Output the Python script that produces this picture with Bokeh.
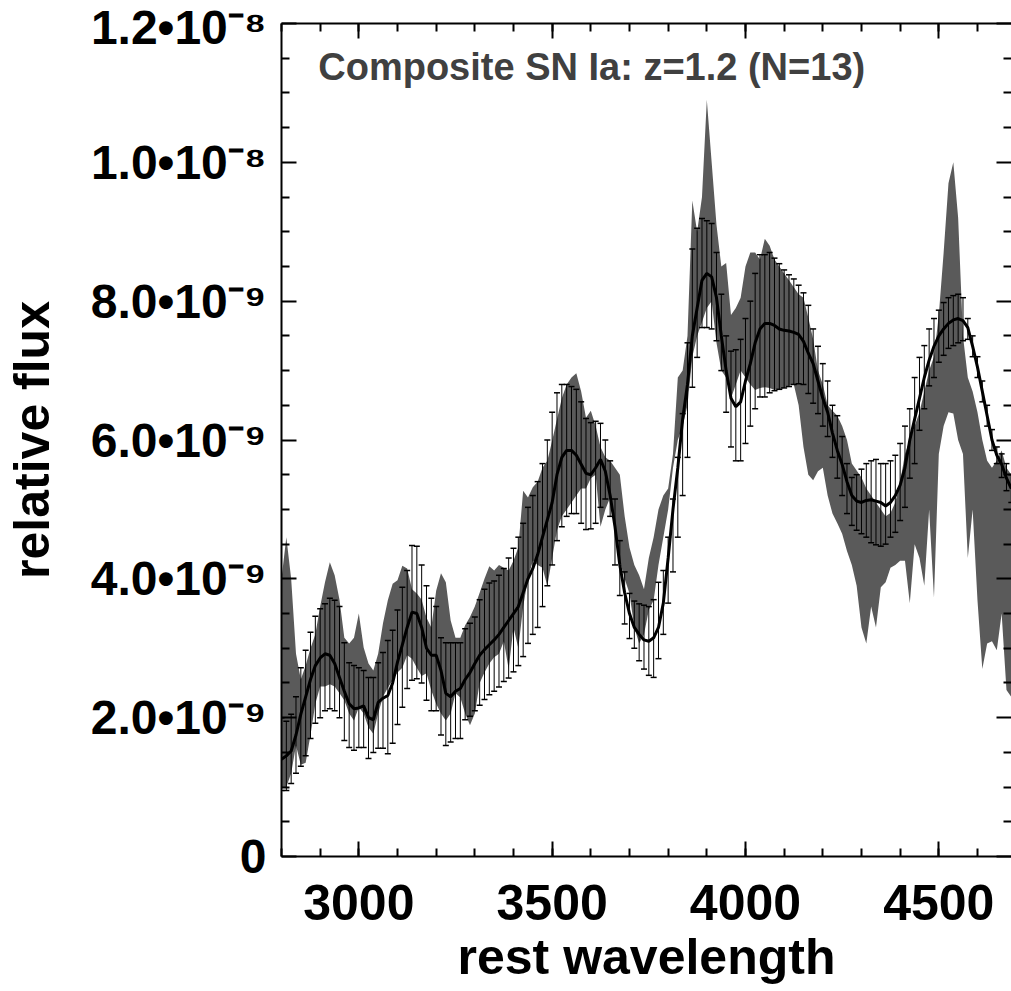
import numpy as np
from bokeh.plotting import figure
from bokeh.models import Range1d, LinearAxis, FixedTicker, SingleIntervalTicker, Label, ColumnDataSource
from bokeh.embed import file_html
from bokeh.resources import INLINE

# rest wavelength sampling of the composite (Angstrom)
wavelength = np.arange(2800, 4700, 12.5)

# composite mean flux, units of 1e-9
mean_flux = [1.40,1.45,1.52,1.75,2.05,2.30,2.55,2.75,2.86,2.92,
2.90,2.78,2.58,2.38,2.20,2.13,2.14,2.17,2.00,1.97,
2.22,2.28,2.32,2.50,2.80,3.05,3.30,3.52,3.50,3.30,
3.00,2.90,2.90,2.68,2.35,2.30,2.38,2.42,2.55,2.65,
2.78,2.90,2.98,3.05,3.12,3.20,3.30,3.40,3.50,3.60,
3.80,4.00,4.15,4.35,4.60,4.85,5.10,5.50,5.75,5.85,
5.85,5.78,5.65,5.52,5.50,5.60,5.72,5.55,5.20,4.75,
4.20,3.80,3.50,3.30,3.20,3.12,3.10,3.15,3.30,3.65,
4.30,5.00,5.60,6.30,6.80,7.50,7.90,8.30,8.40,8.35,
8.05,7.50,7.00,6.60,6.48,6.55,6.85,7.10,7.40,7.60,
7.68,7.68,7.65,7.60,7.58,7.57,7.55,7.52,7.42,7.25,
7.10,6.85,6.60,6.40,6.10,5.85,5.65,5.40,5.20,5.12,
5.10,5.13,5.14,5.12,5.10,5.05,5.10,5.20,5.35,5.60,
6.00,6.30,6.60,6.90,7.15,7.35,7.50,7.60,7.68,7.73,
7.75,7.72,7.62,7.35,7.05,6.70,6.35,6.00,5.78,5.65,
5.45,5.30]

# error bar upper ends, units of 1e-9
err_top = [2.00,1.95,2.05,2.30,2.72,2.97,3.23,3.46,3.57,3.64,
3.72,3.69,3.60,3.08,2.79,2.75,2.72,2.68,2.58,2.58,
2.79,2.94,3.11,3.26,3.55,3.88,4.12,4.48,4.47,4.20,
3.90,3.72,3.60,3.15,3.08,3.08,3.08,3.08,3.28,3.36,
3.45,3.70,3.85,3.94,3.97,4.05,4.15,4.30,4.44,4.60,
4.80,5.03,5.20,5.40,5.66,6.00,6.40,6.68,6.80,6.80,
6.77,6.73,6.55,6.31,6.25,6.27,6.24,6.00,5.70,5.15,
4.55,4.10,3.79,3.68,3.64,3.62,3.60,3.70,3.95,4.12,
4.60,5.15,5.75,6.38,7.40,8.75,9.05,9.19,9.16,9.12,
8.70,8.10,7.50,7.28,7.30,7.45,7.75,8.00,8.40,8.67,
8.67,8.70,8.62,8.54,8.45,8.38,8.32,8.23,8.12,7.94,
7.60,7.35,7.10,6.85,6.50,6.35,6.05,5.66,5.46,5.50,
5.58,5.66,5.70,5.72,5.66,5.66,5.70,5.78,5.95,6.20,
6.45,6.90,7.19,7.36,7.60,7.75,7.87,7.98,8.05,8.08,
8.10,8.05,7.75,7.50,7.20,6.85,6.50,6.15,5.90,5.80,
5.66,5.50]

# error bar lower ends, units of 1e-9
err_bot = [0.95,0.95,1.05,1.20,1.30,1.45,1.70,1.92,2.00,2.10,
2.13,2.10,2.00,1.67,1.57,1.53,1.57,1.57,1.41,1.50,
1.56,1.56,1.48,1.63,1.90,2.15,2.42,2.54,2.56,2.50,
2.25,2.10,2.10,1.75,1.60,1.65,1.70,1.70,1.97,2.02,
2.10,2.18,2.26,2.33,2.38,2.44,2.52,2.57,2.66,2.75,
2.88,3.07,3.20,3.30,3.60,3.90,4.20,4.55,4.75,4.90,
4.94,4.94,4.80,4.71,4.72,4.80,5.03,5.15,4.90,4.20,
3.76,3.35,3.14,3.00,2.82,2.70,2.61,2.58,2.85,3.20,
3.65,4.10,4.60,5.20,5.75,6.76,7.19,7.62,7.62,7.60,
7.43,7.00,6.40,5.90,5.70,5.70,5.95,6.20,6.45,6.62,
6.62,6.68,6.71,6.73,6.75,6.77,6.80,6.81,6.80,6.67,
6.53,6.38,6.20,6.05,5.75,5.45,5.20,4.94,4.77,4.70,
4.65,4.60,4.52,4.49,4.47,4.50,4.60,4.67,4.84,5.03,
5.45,5.66,6.14,6.45,6.78,6.90,7.12,7.22,7.32,7.36,
7.40,7.43,7.45,7.20,6.90,6.55,6.20,5.85,5.66,5.46,
5.27,5.10]

# grey comparison band, upper edge, units of 1e-9
band_top = [4.00,4.60,4.00,2.92,2.55,2.75,3.00,3.20,3.60,3.95,
4.24,4.05,3.70,3.15,3.07,3.15,3.50,3.01,2.78,2.68,
2.92,3.36,3.69,3.93,3.98,4.19,4.15,3.85,3.79,3.70,
3.44,3.30,3.83,4.08,3.95,3.40,3.15,3.15,3.33,3.45,
3.60,3.80,4.00,4.18,4.12,4.20,4.16,4.12,4.26,4.45,
5.27,5.17,5.32,5.40,5.60,5.70,5.99,6.30,6.60,6.80,
6.90,6.96,6.70,6.32,6.42,6.20,5.90,5.75,5.70,5.60,
5.50,4.90,4.45,4.20,4.05,3.85,4.30,4.60,5.00,5.20,
5.30,5.80,6.90,7.00,7.50,9.45,9.00,9.50,10.90,10.00,
9.10,8.50,8.55,7.80,7.90,8.05,8.50,8.70,8.70,8.60,
8.90,8.80,8.60,8.50,8.40,8.30,8.20,8.10,8.05,7.76,
7.45,7.00,6.80,6.50,6.42,6.35,6.20,6.00,5.66,5.56,
5.46,5.30,5.20,5.10,5.00,4.90,4.95,5.10,5.40,5.80,
6.00,6.20,6.40,6.70,7.00,7.20,7.80,8.70,9.70,10.00,
9.20,7.50,6.90,6.70,6.40,6.00,5.70,5.60,5.70,5.85,
5.60,5.50]

# grey comparison band, lower edge, units of 1e-9
band_bot = [1.00,1.00,1.20,1.60,1.32,1.35,1.75,2.20,2.45,2.45,
2.48,2.45,2.35,2.25,2.06,1.96,2.15,2.06,1.86,1.77,
2.06,2.30,2.43,2.54,2.65,2.72,2.90,2.85,2.72,2.60,
2.64,2.39,2.20,2.06,1.96,2.06,2.35,2.29,2.06,1.89,
2.06,2.50,2.65,2.78,2.87,2.92,3.10,2.70,3.30,3.00,
3.60,4.00,4.26,4.20,4.16,3.90,4.30,4.70,4.90,5.00,
5.10,5.20,5.30,5.30,5.45,5.50,4.75,5.00,5.17,4.70,
4.26,4.00,3.79,3.30,3.07,3.20,3.55,3.69,4.20,4.60,
5.00,5.60,6.00,6.20,6.50,7.20,7.50,7.70,7.90,8.00,
7.40,7.00,6.90,6.60,6.80,7.00,6.90,6.80,6.72,6.75,
6.76,6.75,6.72,6.73,6.75,6.78,6.80,6.50,5.90,5.50,
5.42,5.55,5.60,5.20,4.94,4.80,4.65,4.40,4.20,3.90,
3.30,3.07,3.60,3.30,3.88,3.95,4.16,4.20,4.26,4.26,
3.65,4.50,4.30,3.90,5.00,3.73,5.80,6.20,6.40,6.38,
6.00,5.80,4.30,5.00,3.69,2.70,3.07,3.10,2.97,3.50,
2.40,2.30]

ytick_vals = [0, 2e-9, 4e-9, 6e-9, 8e-9, 1e-8, 1.2e-8]
ytick_labels = ["0", "2.0\u202210\u207b\u2079", "4.0\u202210\u207b\u2079", "6.0\u202210\u207b\u2079",
                "8.0\u202210\u207b\u2079", "1.0\u202210\u207b\u2078", "1.2\u202210\u207b\u2078"]
title_text = "Composite SN Ia: z=1.2 (N=13)"

scale = 1e-9
src = ColumnDataSource(dict(
    wl=wavelength,
    mid=np.array(mean_flux) * scale,
    hi=np.array(err_top) * scale,
    lo=np.array(err_bot) * scale,
    bhi=np.array(band_top) * scale,
    blo=np.array(band_bot) * scale,
))

FONT = "Liberation Sans"

p = figure(width=1011, height=991, x_range=Range1d(2800, 4688), y_range=Range1d(0, 1.2e-8),
           output_backend="svg", toolbar_location=None,
           min_border_left=277, min_border_right=0, min_border_top=23, min_border_bottom=135,
           x_axis_label="rest wavelength", y_axis_label="relative flux")
p.outline_line_color = None
p.grid.visible = False

p.varea(x="wl", y1="blo", y2="bhi", source=src, fill_color="#5a5a5a")
p.segment(x0="wl", y0="lo", x1="wl", y1="hi", source=src, line_color="black", line_width=1)
p.scatter(x="wl", y="hi", source=src, marker="dash", size=6, line_color="black", line_width=1.5)
p.scatter(x="wl", y="lo", source=src, marker="dash", size=6, line_color="black", line_width=1.5)
p.line(x="wl", y="mid", source=src, line_color="black", line_width=3)

yminor = [k * 0.5e-9 for k in range(25) if k % 4]
yticker = FixedTicker(ticks=ytick_vals, minor_ticks=yminor)
xticker = SingleIntervalTicker(interval=500, num_minor_ticks=5)

def style(ax):
    ax.axis_line_width = 2
    ax.axis_line_color = "black"
    ax.major_tick_line_width = 2
    ax.minor_tick_line_width = 2
    ax.major_tick_in = 15
    ax.major_tick_out = 0
    ax.minor_tick_in = 8
    ax.minor_tick_out = 0
    ax.major_label_text_font = FONT
    ax.major_label_text_font_style = "bold"
    ax.major_label_text_color = "black"
    ax.axis_label_text_font = FONT
    ax.axis_label_text_font_style = "bold"
    ax.axis_label_text_color = "black"

xa = p.xaxis[0]
xa.ticker = xticker
style(xa)
xa.major_label_text_font_size = "50px"
xa.major_label_standoff = 28
xa.axis_label_text_font_size = "50px"
xa.axis_label_standoff = 6

ya = p.yaxis[0]
ya.ticker = yticker
style(ya)
ya.major_label_overrides = dict(zip(ytick_vals, ytick_labels))
ya.major_label_text_font_size = "48px"
ya.major_label_standoff = 15
ya.axis_label_text_font_size = "50px"
ya.axis_label_standoff = 28

def bare(ax):
    style(ax)
    ax.major_label_text_color = None
    ax.major_label_text_font_size = "1px"
    ax.major_label_standoff = 0

top = LinearAxis(ticker=xticker)
bare(top)
p.add_layout(top, "above")

right = LinearAxis(ticker=yticker)
bare(right)
right.axis_line_color = None
p.add_layout(right, "right")

p.add_layout(Label(x=2895, y=11.38e-9, text=title_text, text_font=FONT, text_font_style="bold",
                   text_font_size="38px", text_color="#404040", text_baseline="middle"))

open("out.html", "w").write(file_html(p, INLINE))
